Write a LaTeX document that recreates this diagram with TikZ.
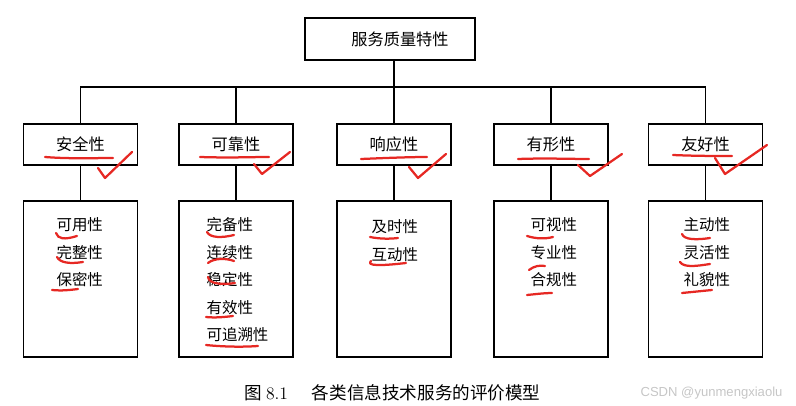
\documentclass[tikz,border=0pt]{standalone}
\usepackage{fontspec}
\newfontfamily\cjk{Noto Sans CJK SC}
\newfontfamily\wmfont{Liberation Sans}
\definecolor{pencol}{RGB}{230,40,35}
\begin{document}
\begin{tikzpicture}[x=0.025cm,y=-0.025cm,line width=0.8pt,
 topbox/.style={draw,minimum width=4.25cm,minimum height=1.05cm,font=\cjk\fontsize{11.5}{14}\selectfont},
 headbox/.style={draw,minimum width=2.85cm,minimum height=1.025cm,font=\cjk\fontsize{11.5}{14}\selectfont},
 listbox/.style={draw,minimum width=2.85cm,minimum height=3.9cm},
 item/.style={anchor=west,inner sep=0pt,font=\cjk\fontsize{11}{13}\selectfont},
 pen/.style={draw=pencol,line width=1.6pt,line cap=round,line join=round}]
 \useasboundingbox (0,0) rectangle (796,406);
 % boxes
 \node[topbox] (top) at (390,39) {\hspace{0.5cm}服务质量特性};
 \node[headbox] (h1) at (80.5,144.5) {安全性};
 \node[headbox] (h2) at (236,144.5) {可靠性};
 \node[headbox] (h3) at (394,144.5) {响应性};
 \node[headbox] (h4) at (551,144.5) {有形性};
 \node[headbox] (h5) at (705.5,144.5) {友好性};
 \foreach \i in {1,...,5}
 \node[listbox] (l\i) at (h\i |- 0,279) {};
 % lists
 \foreach \t [count=\k] in {可用性,完整性,保密性}
 \node[item] (a\k) at (56,{225+27.5*(\k-1)}) {\t};
 \foreach \t [count=\k] in {完备性,连续性,稳定性,有效性,可追溯性}
 \node[item] (b\k) at (206,{225+27.5*(\k-1)}) {\t};
 \foreach \t [count=\k] in {及时性,互动性}
 \node[item] (c\k) at (371,{227+27.5*(\k-1)}) {\t};
 \foreach \t [count=\k] in {可视性,专业性,合规性}
 \node[item] (d\k) at (530,{225+27.5*(\k-1)}) {\t};
 \foreach \t [count=\k] in {主动性,灵活性,礼貌性}
 \node[item] (e\k) at (683,{225+27.5*(\k-1)}) {\t};
 % connectors
 \coordinate (bar) at (0,87);
 \draw (top.south -| h3.north) -- (h3.north);
 \draw (h1.north) -- (h1.north |- bar) -- (h5.north |- bar) -- (h5.north);
 \foreach \i in {2,4}
 \draw (h\i.north) -- (h\i.north |- bar);
 \foreach \i in {1,...,5}
 \draw (h\i.south) -- (l\i.north);
 % red pen marks
 \draw[pen] (45,157) .. controls (70,159) and (95,158) .. (113,158);
 \draw[pen] (98,168) -- (105,178) -- (132,152);
 \draw[pen] (200,157) .. controls (230,158) and (250,157) .. (269,157);
 \draw[pen] (254,164) -- (262,174) -- (290,152);
 \draw[pen] (361,159) .. controls (385,158) and (410,157) .. (427,157);
 \draw[pen] (409,167) -- (418,178) -- (446,154);
 \draw[pen] (518,159) .. controls (545,158) and (570,159) .. (589,159);
 \draw[pen] (578,165) -- (590,176) -- (622,154);
 \draw[pen] (673,155) .. controls (695,156) and (715,156) .. (732,156);
 \draw[pen] (715,158) -- (725,174) -- (767,145);
 \draw[pen] (56,233) .. controls (58,239) and (64,240) .. (77,236);
 \draw[pen] (57,257) .. controls (60,263) and (70,264) .. (83,262);
 \draw[pen] (52,290) .. controls (62,291) and (70,290) .. (78,289);
 \draw[pen] (207,232) .. controls (210,238) and (222,238) .. (234,235);
 \draw[pen] (208,263) .. controls (214,258) and (226,258) .. (234,261);
 \draw[pen] (208,277) .. controls (209,284) and (222,285) .. (235,283);
 \draw[pen] (206,317) .. controls (215,318) and (225,317) .. (233,316);
 \draw[pen] (206,345) .. controls (225,347) and (245,347) .. (258,346);
 \draw[pen] (370,237) .. controls (380,239) and (390,239) .. (398,238);
 \draw[pen] (371,261) .. controls (366,266) and (380,266) .. (406,263);
 \draw[pen] (527,236) .. controls (537,239) and (545,239) .. (553,237);
 \draw[pen] (529,270) .. controls (534,266) and (540,265) .. (545,266);
 \draw[pen] (527,295) .. controls (537,294) and (545,293) .. (552,293);
 \draw[pen] (682,234) .. controls (684,240) and (697,240) .. (710,238);
 \draw[pen] (680,262) .. controls (684,268) and (697,266) .. (710,264);
 \draw[pen] (682,293) .. controls (692,292) and (702,291) .. (712,290);
 % caption
 \node[anchor=west,inner sep=0pt,font=\cjk\fontsize{12.5}{15}\selectfont] (cap) at (244,393)
 {图 {\rmfamily 8.1}\hspace{17pt}各类信息技术服务的评价模型};
 \node[anchor=west,inner sep=0pt,text=gray!45,font=\wmfont\fontsize{9.3}{11}\selectfont] (wm) at (640,393)
 {CSDN @yunmengxiaolu};
\end{tikzpicture}
\end{document}
